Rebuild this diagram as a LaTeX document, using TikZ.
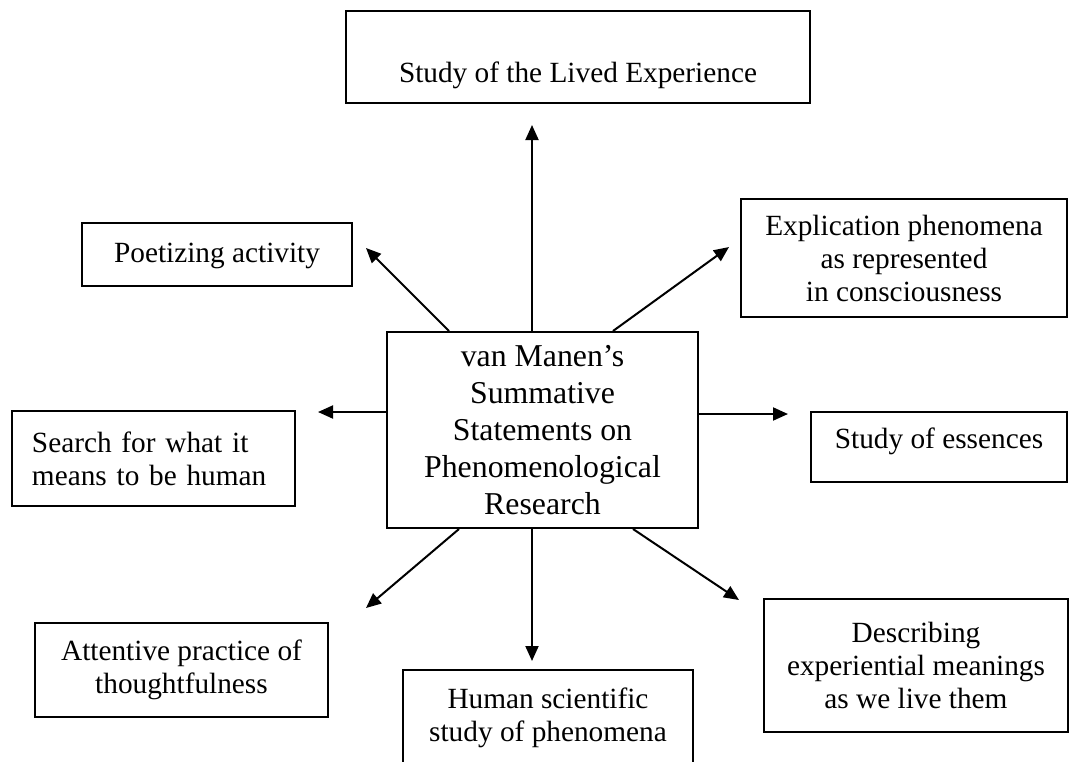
\documentclass[tikz,border=0pt]{standalone}
\usepackage{fontspec}
\setmainfont{Liberation Serif}
\usetikzlibrary{arrows.meta}
\newcommand\boxfont{\fontsize{14.65pt}{16.5pt}\selectfont}
\newcommand\cenfont{\fontsize{15.9pt}{18.5pt}\selectfont}
\begin{document}
\begin{tikzpicture}[x=0.5pt,y=-0.5pt,
  box/.style={draw, line width=1pt, inner sep=0pt, align=center, font=\boxfont},
  conn/.style={line width=1pt, -{Triangle[length=7.5pt,width=6.5pt]}}]
\useasboundingbox (0,0) rectangle (1070,761);
% central
\node[box, font=\cenfont, minimum width=155.5pt, minimum height=98pt] (cen) at (542.5,430)
  {van Manen’s\\Summative\\Statements on\\Phenomenological\\Research};
% outer boxes
\node[box, anchor=base, minimum width=232pt, text height=35.5pt, text depth=10.5pt] (top) at (578,82)
  {Study of the Lived Experience};
\node[box, anchor=base, minimum width=135pt, text height=19.5pt, text depth=12pt] (poet) at (217,262)
  {Poetizing activity};
\node[box, minimum width=163pt, minimum height=59pt] (expl) at (904,258)
  {Explication phenomena\\as represented\\in consciousness};
\node[box, anchor=base, minimum width=128pt, text height=18pt, text depth=17pt] (ess) at (939,448)
  {Study of essences};
\node[box, align=left, text width=121.5pt, inner xsep=10pt, minimum height=47.5pt] (search) at (153.5,458.5)
  {Search for what it\\means to be human};
\node[box, minimum width=146.5pt, minimum height=47pt] (att) at (181.5,670)
  {Attentive practice of\\thoughtfulness};
\node[box, minimum width=145pt, minimum height=48pt] (hum) at (548,718)
  {Human scientific\\study of phenomena};
\node[box, minimum width=152pt, minimum height=66.5pt] (desc) at (916,665.5)
  {Describing\\experiential meanings\\as we live them};
% connector ends
\coordinate (sUp) at (532,332);   \coordinate (tUp) at (532,125);
\coordinate (sPo) at (449,332);   \coordinate (tPo) at (366,248);
\coordinate (sEx) at (613,332);   \coordinate (tEx) at (729,247);
\coordinate (sSe) at (387,412);   \coordinate (tSe) at (318,412);
\coordinate (sEs) at (698,414);   \coordinate (tEs) at (788,414);
\coordinate (sAt) at (459,528);   \coordinate (tAt) at (366,608);
\coordinate (sHu) at (532,528);   \coordinate (tHu) at (532,661);
\coordinate (sDe) at (633,528);   \coordinate (tDe) at (739,600);
\draw[conn] (cen.north -| sUp) -- (tUp);
\draw[conn] (cen.north -| sPo) -- (tPo);
\draw[conn] (cen.north -| sEx) -- (tEx);
\draw[conn] (cen.west |- sSe) -- (tSe);
\draw[conn] (cen.east |- sEs) -- (tEs);
\draw[conn] (cen.south -| sAt) -- (tAt);
\draw[conn] (cen.south -| sHu) -- (tHu);
\draw[conn] (cen.south -| sDe) -- (tDe);
\end{tikzpicture}
\end{document}
